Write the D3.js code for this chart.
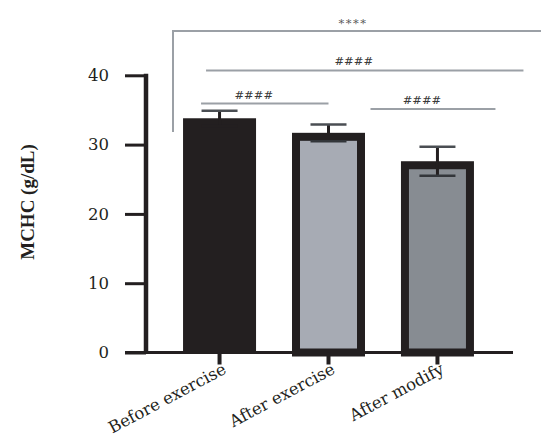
<!DOCTYPE html>
<html>
<head>
<meta charset="utf-8">
<script src="https://cdn.jsdelivr.net/npm/d3@7"></script>
<style>
  body { margin: 0; background: #fff; }
  svg { display: block; }
</style>
</head>
<body>
<svg id="chart" width="541" height="441"></svg>
<script>
const width = 541, height = 441;
const svg = d3.select("#chart");

// data
const groups = ["Before exercise", "After exercise", "After modify"];
const means = [33.8, 31.7, 27.6];
const sds = [1.1, 1.2, 2.1];
const yTicks = [0, 10, 20, 30, 40];
const fills = ["#231f20", "#a7abb4", "#878c92"];

// significance marks: label, from group, to group
const sigLabels = ["####", "####", "####"];
const sigFrom = [0, 0, 1];
const sigTo = [1, 2, 2];

const ink = "#231f20", grey = "#9ba0a6";

const x = d3.scaleBand()
  .domain(groups)
  .range([146, 511])
  .paddingInner(0.33)
  .paddingOuter(0.34);

const y = d3.scaleLinear().domain([0, 40]).range([352.5, 75.3]);

// bars
const bw = x.bandwidth();
svg.selectAll("rect.bar")
  .data(groups)
  .join("rect")
    .attr("class", "bar")
    .attr("x", (d, i) => x(d) + (i ? 4 : 0))
    .attr("y", (d, i) => y(means[i]) + (i ? 4 : 0))
    .attr("width", (d, i) => bw - (i ? 8 : 0))
    .attr("height", (d, i) => y(0) - y(means[i]) - (i ? 4 : 0))
    .attr("fill", (d, i) => fills[i])
    .attr("stroke", (d, i) => i ? ink : "none")
    .attr("stroke-width", 8);

// error bars
const eb = svg.append("g");
groups.forEach((g, i) => {
  const cx = x(g) + bw / 2;
  eb.append("line")
    .attr("x1", cx).attr("x2", cx)
    .attr("y1", y(means[i] + sds[i])).attr("y2", y(means[i] - sds[i]))
    .attr("stroke", ink).attr("stroke-width", 3);
  [means[i] + sds[i], means[i] - sds[i]].forEach((v, k) => {
    eb.append("line")
      .attr("x1", cx - 18).attr("x2", cx + 18)
      .attr("y1", y(v)).attr("y2", y(v))
      .attr("stroke", k ? (i ? "#33363a" : ink) : "#4a4e53")
      .attr("stroke-width", 2.5);
  });
});

// y axis
const yAxis = svg.append("g")
  .attr("transform", "translate(146,0)")
  .call(d3.axisLeft(y).tickValues(yTicks).tickSize(21).tickPadding(16));
yAxis.select(".domain").remove();
yAxis.selectAll(".tick line").attr("stroke", ink).attr("stroke-width", 3);
yAxis.selectAll(".tick text")
  .attr("font-family", "DejaVu Serif").attr("font-size", 16.5).attr("fill", ink);
svg.append("line")
  .attr("x1", 146).attr("x2", 146).attr("y1", y(40) - 1.5).attr("y2", y(0) + 1.5)
  .attr("stroke", ink).attr("stroke-width", 4.5);

// x axis
svg.append("line")
  .attr("x1", 125).attr("x2", 513).attr("y1", y(0)).attr("y2", y(0))
  .attr("stroke", ink).attr("stroke-width", 3);
const xAxis = svg.append("g")
  .attr("transform", `translate(0,${y(0)})`)
  .call(d3.axisBottom(x).tickSize(12).tickSizeOuter(0));
xAxis.select(".domain").remove();
xAxis.selectAll(".tick line").attr("stroke", ink).attr("stroke-width", 4);
xAxis.selectAll(".tick text")
  .attr("font-family", "DejaVu Serif").attr("font-size", 16.5).attr("fill", ink)
  .attr("text-anchor", "end")
  .attr("transform", "translate(5,15) rotate(-28)")
  .attr("dy", "0.35em").attr("y", 0);

// y label
svg.append("text")
  .attr("transform", "translate(34,202) rotate(-90)")
  .attr("text-anchor", "middle")
  .attr("font-family", "Liberation Serif").attr("font-weight", "bold")
  .attr("font-size", 19).attr("fill", ink)
  .text("MCHC (g/dL)");

// significance lines
const sigY = [103.5, 70.4, 109];
const sigX = [[-18.5, 0], [-13.5, 86], [42, 58]];
sigLabels.forEach((t, i) => {
  const x1 = x(groups[sigFrom[i]]) + bw / 2 + sigX[i][0];
  const x2 = x(groups[sigTo[i]]) + bw / 2 + sigX[i][1];
  svg.append("line")
    .attr("x1", x1).attr("x2", x2).attr("y1", sigY[i]).attr("y2", sigY[i])
    .attr("stroke", grey).attr("stroke-width", 2);
  svg.append("text")
    .attr("x", (x1 + x2) / 2 - 11).attr("y", sigY[i] - 5)
    .attr("text-anchor", "middle")
    .attr("font-family", "DejaVu Serif").attr("font-size", 11.5).attr("fill", "#3a3a3a")
    .text(t);
});

// overall bracket
svg.append("path")
  .attr("d", `M173,132V31H541`)
  .attr("fill", "none").attr("stroke", grey).attr("stroke-width", 2);
svg.append("text")
  .attr("x", 353).attr("y", 27)
  .attr("text-anchor", "middle")
  .attr("font-family", "DejaVu Serif").attr("font-size", 11.5).attr("fill", "#5a5a5a")
  .attr("letter-spacing", 1.5)
  .text("****");
</script>
</body>
</html>
